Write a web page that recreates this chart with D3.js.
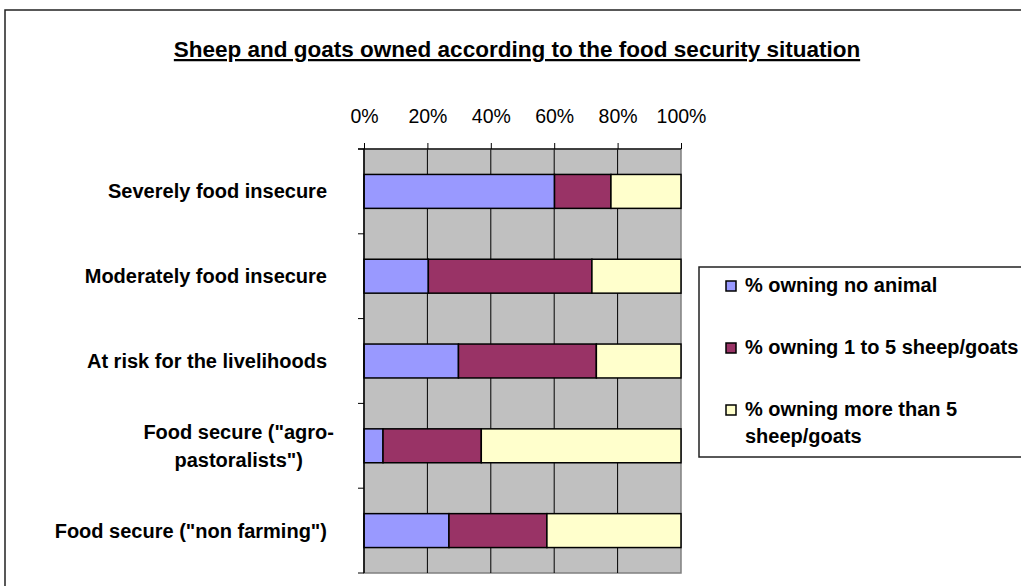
<!DOCTYPE html>
<html>
<head>
<meta charset="utf-8">
<script src="https://cdn.jsdelivr.net/npm/d3@7"></script>
<style>
  body { margin: 0; background: #fff; }
  svg text { font-family: "Liberation Sans", Arial, sans-serif; fill: #000; }
</style>
</head>
<body>
<svg id="chart"></svg>
<script>
// categories (top to bottom), label lines for wrapped labels
const categories = [
  "Severely food insecure",
  "Moderately food insecure",
  "At risk for the livelihoods",
  "Food secure (\"agro-pastoralists\")",
  "Food secure (\"non farming\")"
];
const categoryLines = [
  ["Severely food insecure"],
  ["Moderately food insecure"],
  ["At risk for the livelihoods"],
  ["Food secure (\"agro-", "pastoralists\")"],
  ["Food secure (\"non farming\")"]
];

// series values in %
const noAnimal = [60.1, 20.3, 29.8, 6.0, 26.8];
const oneToFive = [17.8, 51.6, 43.5, 31.0, 30.9];
const moreThanFive = [22.1, 28.1, 26.7, 63.0, 42.3];

const seriesKeys = ["none", "few", "many"];
const seriesNames = [
  ["% owning no animal"],
  ["% owning 1 to 5 sheep/goats"],
  ["% owning more than 5", "sheep/goats"]
];
const seriesColors = ["#9999FF", "#993366", "#FFFFCC"];
const tickValues = [0, 20, 40, 60, 80, 100];

const width = 1021, height = 586;
const plot = { left: 364, right: 681, top: 149, bottom: 573 };

const svg = d3.select("#chart").attr("width", width).attr("height", height);

// outer chart frame
svg.append("rect")
  .attr("x", 5).attr("y", 10)
  .attr("width", 1040).attr("height", 620)
  .attr("fill", "#fff")
  .attr("stroke", "#222")
  .attr("stroke-width", 1.5);

// title
svg.append("text")
  .attr("x", 517).attr("y", 57)
  .attr("text-anchor", "middle")
  .style("font-size", "22.5px")
  .style("font-weight", "bold")
  .style("text-decoration", "underline")
  .text("Sheep and goats owned according to the food security situation");

const x = d3.scaleLinear().domain([0, 100]).range([plot.left, plot.right]);
const y = d3.scaleBand()
  .domain(categories)
  .range([plot.top, plot.bottom])
  .paddingInner(0.6)
  .paddingOuter(0.3);

// plot background
svg.append("rect")
  .attr("x", x(0)).attr("y", plot.top)
  .attr("width", x(100) - x(0)).attr("height", plot.bottom - plot.top)
  .attr("fill", "#C0C0C0")
  .attr("stroke", "#808080")
  .attr("stroke-width", 1.5);

// vertical gridlines
svg.selectAll(".grid")
  .data(tickValues.slice(1, -1))
  .enter()
  .append("line")
  .attr("class", "grid")
  .attr("x1", (d) => x(d)).attr("x2", (d) => x(d))
  .attr("y1", plot.top).attr("y2", plot.bottom)
  .attr("stroke", "#000")
  .attr("stroke-width", 1);

// stacked bars
const rows = categories.map((c, i) => ({
  cat: c, none: noAnimal[i], few: oneToFive[i], many: moreThanFive[i]
}));
const stacked = d3.stack().keys(seriesKeys)(rows);

svg.selectAll(".series")
  .data(stacked)
  .enter()
  .append("g")
  .attr("class", "series")
  .attr("fill", (d, i) => seriesColors[i])
  .selectAll("rect")
  .data((d) => d)
  .enter()
  .append("rect")
  .attr("x", (d) => x(d[0]))
  .attr("y", (d) => y(d.data.cat))
  .attr("width", (d) => x(d[1]) - x(d[0]))
  .attr("height", y.bandwidth())
  .attr("stroke", "#000")
  .attr("stroke-width", 1.5);

// top axis
const xAxis = svg.append("g")
  .attr("transform", `translate(0, ${plot.top})`)
  .call(d3.axisTop(x).tickValues(tickValues).tickSize(6).tickPadding(20)
    .tickFormat((d) => d + "%"));
xAxis.select(".domain").attr("stroke", "#222").attr("stroke-width", 1.5)
  .attr("d", `M${plot.left - 6},0H${plot.right}`);
xAxis.selectAll(".tick line").attr("stroke", "#000");
xAxis.selectAll(".tick text")
  .style("font-size", "19.5px")
  .attr("font-family", null);

// left axis line with ticks at category boundaries
const step = y.step();
const boundaries = d3.range(categories.length + 1).map((i) => plot.top + i * step);
svg.append("line")
  .attr("x1", plot.left).attr("x2", plot.left)
  .attr("y1", plot.top).attr("y2", plot.bottom)
  .attr("stroke", "#000").attr("stroke-width", 1.5);
svg.selectAll(".ytick")
  .data(boundaries)
  .enter()
  .append("line")
  .attr("class", "ytick")
  .attr("x1", plot.left - 6).attr("x2", plot.left)
  .attr("y1", (d) => d).attr("y2", (d) => d)
  .attr("stroke", "#000");

// category labels
const lineH = 28;
categoryLines.forEach((lines, i) => {
  const cy = y(categories[i]) + y.bandwidth() / 2;
  const t = svg.append("text")
    .attr("text-anchor", "middle")
    .style("font-size", "20px")
    .style("font-weight", "bold");
  const first = cy + 7 - ((lines.length - 1) * lineH) / 2;
  lines.forEach((ln, j) => {
    t.append("tspan").attr("x", 0).attr("y", first + j * lineH).text(ln);
  });
  // right-align the text block (wrapped blocks sit a bit further right)
  const w = t.node().getBBox().width;
  const right = lines.length > 1 ? 334 : 327;
  t.attr("transform", `translate(${right - w / 2}, 0)`);
});

// legend
const legend = svg.append("g");
legend.append("rect")
  .attr("x", 699).attr("y", 267)
  .attr("width", 400).attr("height", 190)
  .attr("fill", "#fff")
  .attr("stroke", "#222")
  .attr("stroke-width", 1.5);

const legendY = [292, 354, 416];
seriesNames.forEach((lines, i) => {
  legend.append("rect")
    .attr("x", 726).attr("y", legendY[i] - 11)
    .attr("width", 10).attr("height", 10)
    .attr("fill", seriesColors[i])
    .attr("stroke", "#000")
    .attr("stroke-width", 1.5);
  const t = legend.append("text")
    .style("font-size", "20px")
    .style("font-weight", "bold");
  lines.forEach((ln, j) => {
    t.append("tspan").attr("x", 745).attr("y", legendY[i] + j * 27).text(ln);
  });
});
</script>
</body>
</html>
